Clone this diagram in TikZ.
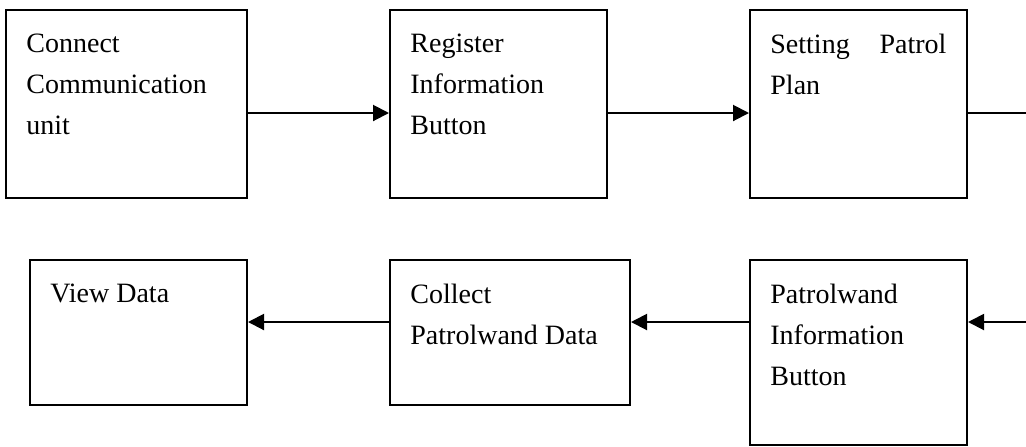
\documentclass[tikz,border=0pt]{standalone}
\usepackage{fontspec}
\setmainfont{Liberation Serif}
\usetikzlibrary{arrows.meta}

\begin{document}
\begin{tikzpicture}[
  x=0.5pt, y=-0.5pt,
  box/.style={draw, line width=1pt, anchor=north west, inner sep=0pt},
  txt/.style={anchor=north west, inner sep=0pt, align=left, label distance=0pt,
    font=\fontsize{14}{20.5}\selectfont, xshift=10.5pt, yshift=-12.3pt},
  arrow/.style={-{Triangle[length=8pt, width=8pt]}, line width=1pt}
]
\useasboundingbox (0,0) rectangle (1026,446);

% upper row
\node[box, minimum width=120.5pt, minimum height=94pt,
  label={[txt]north west:Connect\\Communication\\unit}] (conn) at (5,9) {};
\node[box, minimum width=108.5pt, minimum height=94pt,
  label={[txt]north west:Register\\Information\\Button}] (reg) at (389,9) {};
\node[box, minimum width=108.5pt, minimum height=94pt,
  label={[txt, text width=88pt]north west:Setting\hfill Patrol\\Plan}] (plan) at (749,9) {};

% lower row
\node[box, minimum width=108.5pt, minimum height=72.5pt,
  label={[txt]north west:View Data}] (view) at (29,259) {};
\node[box, minimum width=120pt, minimum height=72.5pt,
  label={[txt]north west:Collect\\Patrolwand Data}] (coll) at (389,259) {};
\node[box, minimum width=108.5pt, minimum height=92.5pt,
  label={[txt]north west:Patrolwand\\Information\\Button}] (wand) at (749,259) {};

\coordinate (out) at (1026,113);
\coordinate (in) at (1026,322);

\draw[arrow] (conn.east |- out) -- (reg.west |- out);
\draw[arrow] (reg.east |- out) -- (plan.west |- out);
\draw[line width=1pt] (plan.east |- out) -- (out);

\draw[arrow] (in) -- (wand.east |- in);
\draw[arrow] (wand.west |- in) -- (coll.east |- in);
\draw[arrow] (coll.west |- in) -- (view.east |- in);
\end{tikzpicture}
\end{document}
